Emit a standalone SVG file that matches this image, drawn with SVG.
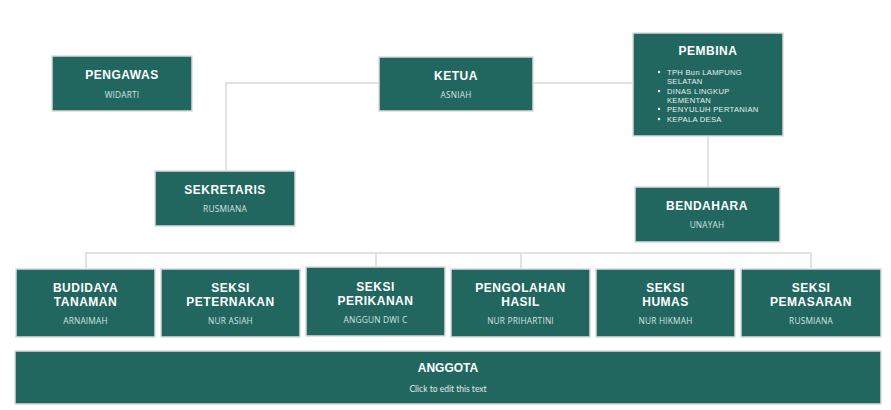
<svg xmlns="http://www.w3.org/2000/svg" width="891" height="410" viewBox="0 0 891 410">
<style>
.box{fill:#21675f;stroke:#dcdcdc;stroke-width:1.5}
.t{font-family:"Liberation Sans",Arial,sans-serif;font-weight:700;font-size:12px;letter-spacing:0.5px;fill:#ffffff;text-anchor:middle}
.s{font-family:"Open Sans","Liberation Sans",sans-serif;font-size:8.3px;letter-spacing:0.2px;fill:#d6e4e2;text-anchor:middle}
.b{font-family:"Liberation Sans",Arial,sans-serif;font-size:7.6px;letter-spacing:0.3px;fill:#e8f0ef}
.c{fill:none;stroke:#d9d9d9;stroke-width:1.5}
</style>
<rect width="891" height="410" fill="#ffffff"/>
<g id="connectors">
<path class="c" d="M379,83 H226 V171"/>
<path class="c" d="M533,83 H633"/>
<path class="c" d="M708,136 V187"/>
<path class="c" d="M86,269 V253 H811 V269"/>
<path class="c" d="M376,253 V267"/>
<path class="c" d="M521,253 V269"/>
</g>
<g id="pengawas">
<rect class="box" x="52" y="56" width="140" height="55"/>
<text class="t" x="122" y="79">PENGAWAS</text>
<text class="s" x="122" y="98">WIDARTI</text>
</g>
<g id="ketua">
<rect class="box" x="379" y="57" width="154" height="54"/>
<text class="t" x="456" y="80">KETUA</text>
<text class="s" x="456" y="98">ASNIAH</text>
</g>
<g id="pembina">
<rect class="box" x="633" y="33" width="150" height="103"/>
<text class="t" x="708" y="55">PEMBINA</text>
<g class="b">
<circle cx="659" cy="72" r="1.2" fill="#e8f0ef"/>
<text x="667" y="75">TPH Bun LAMPUNG</text>
<text x="667" y="84">SELATAN</text>
<circle cx="659" cy="91" r="1.2" fill="#e8f0ef"/>
<text x="667" y="94">DINAS LINGKUP</text>
<text x="667" y="103">KEMENTAN</text>
<circle cx="659" cy="109" r="1.2" fill="#e8f0ef"/>
<text x="667" y="112">PENYULUH PERTANIAN</text>
<circle cx="659" cy="119" r="1.2" fill="#e8f0ef"/>
<text x="667" y="122">KEPALA DESA</text>
</g>
</g>
<g id="sekretaris">
<rect class="box" x="155" y="171" width="140" height="55"/>
<text class="t" x="225" y="194">SEKRETARIS</text>
<text class="s" x="225" y="212">RUSMIANA</text>
</g>
<g id="bendahara">
<rect class="box" x="635" y="187" width="145" height="55"/>
<text class="t" x="707" y="210">BENDAHARA</text>
<text class="s" x="707" y="228">UNAYAH</text>
</g>
<g id="budidaya">
<rect class="box" x="16" y="269" width="139" height="68"/>
<text class="t" x="85.5" y="292">BUDIDAYA</text>
<text class="t" x="85.5" y="306">TANAMAN</text>
<text class="s" x="85.5" y="324">ARNAIMAH</text>
</g>
<g id="peternakan">
<rect class="box" x="161" y="269" width="139" height="68"/>
<text class="t" x="230.5" y="292">SEKSI</text>
<text class="t" x="230.5" y="306">PETERNAKAN</text>
<text class="s" x="230.5" y="324">NUR ASIAH</text>
</g>
<g id="perikanan">
<rect class="box" x="306" y="267" width="139" height="69"/>
<text class="t" x="375.5" y="291">SEKSI</text>
<text class="t" x="375.5" y="305">PERIKANAN</text>
<text class="s" x="375.5" y="323">ANGGUN DWI C</text>
</g>
<g id="pengolahan">
<rect class="box" x="451" y="269" width="139" height="68"/>
<text class="t" x="520.5" y="292">PENGOLAHAN</text>
<text class="t" x="520.5" y="306">HASIL</text>
<text class="s" x="520.5" y="324">NUR PRIHARTINI</text>
</g>
<g id="humas">
<rect class="box" x="596" y="269" width="139" height="68"/>
<text class="t" x="665.5" y="292">SEKSI</text>
<text class="t" x="665.5" y="306">HUMAS</text>
<text class="s" x="665.5" y="324">NUR HIKMAH</text>
</g>
<g id="pemasaran">
<rect class="box" x="741" y="269" width="140" height="68"/>
<text class="t" x="811" y="292">SEKSI</text>
<text class="t" x="811" y="306">PEMASARAN</text>
<text class="s" x="811" y="324">RUSMIANA</text>
</g>
<g id="anggota">
<rect class="box" x="15" y="351" width="866" height="53"/>
<text class="t" x="448" y="372" style="letter-spacing:0">ANGGOTA</text>
<text x="448" y="392" style="font-family:Lato,'Liberation Sans',sans-serif;font-size:8.5px;fill:#e0ebe9;text-anchor:middle">Click to edit this text</text>
</g>
</svg>
